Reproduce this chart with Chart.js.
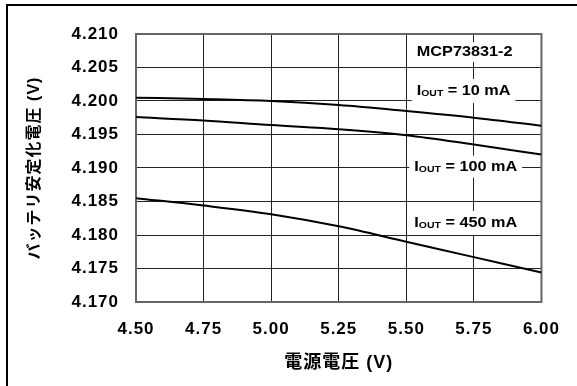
<!DOCTYPE html>
<html>
<head>
<meta charset="utf-8">
<script src="https://cdn.jsdelivr.net/npm/chart.js@4/dist/chart.umd.min.js"></script>
<style>
  html, body { margin: 0; padding: 0; background: #fff; }
  #wrap { position: relative; width: 577px; height: 386px; }
  #frame { position: absolute; left: 6px; top: 4px; right: 0; bottom: 0;
           border-left: 2px solid #000; border-top: 2px solid #000; pointer-events: none; }
</style>
</head>
<body>
<div id="wrap">
  <canvas id="c"></canvas>
  <div id="frame"></div>
</div>
<script>
// Supply voltage (V) sample points
const supplyVoltage = [4.50, 4.75, 5.00, 5.25, 5.50, 5.75, 6.00];
// Regulated battery voltage (V) for each load current
const vreg10mA  = [4.2005, 4.2003, 4.2000, 4.1994, 4.1985, 4.1975, 4.1963];
const vreg100mA = [4.1976, 4.1971, 4.1964, 4.1958, 4.1949, 4.1935, 4.1920];
const vreg450mA = [4.1855, 4.1844, 4.1831, 4.1813, 4.1790, 4.1767, 4.1744];
// Axis ticks
const xTicks = [4.50, 4.75, 5.00, 5.25, 5.50, 5.75, 6.00];
const yTicks = [4.170, 4.175, 4.180, 4.185, 4.190, 4.195, 4.200, 4.205, 4.210];

const FONT = "'Liberation Sans', Arial, 'Noto Sans CJK JP', sans-serif";

// In-plot captions (anchored in data units)
const notes = [
  { parts: [['MCP73831-2', 0]], x: 5.716, y: 4.2073, boxH: 20 },
  { parts: [['I', 0], ['OUT', 1], [' = 10 mA', 0]], x: 5.712, y: 4.2015, boxH: 24 },
  { parts: [['I', 0], ['OUT', 1], [' = 100 mA', 0]], x: 5.72, y: 4.1902, boxH: 22 },
  { parts: [['I', 0], ['OUT', 1], [' = 450 mA', 0]], x: 5.72, y: 4.1818, boxH: 24 }
];

const toPoints = ys => supplyVoltage.map((v, i) => ({ x: v, y: ys[i] }));

const lineStyle = {
  borderColor: '#000', borderWidth: 2, pointRadius: 0,
  cubicInterpolationMode: 'monotone', fill: false
};

// Slightly wider lettering for axis text
const spacing = {
  id: 'spacing',
  beforeUpdate(c) { c.ctx.letterSpacing = '1px'; },
  beforeLayout(c) { c.ctx.letterSpacing = '1px'; },
  beforeDraw(c) { c.ctx.letterSpacing = '1px'; }
};

// Plot frame and captions with white backing boxes
const captions = {
  id: 'captions',
  beforeDatasetsDraw(c) {
    const ctx = c.ctx, xs = c.scales.x, ys = c.scales.y, a = c.chartArea;
    ctx.save();
    ctx.strokeStyle = '#666';
    ctx.lineWidth = 2;
    ctx.strokeRect(a.left, a.top, a.right - a.left, a.bottom - a.top);
    ctx.letterSpacing = '0px';
    const sx = 1.16;
    const big = 'bold 14px ' + FONT, small = 'bold 9px ' + FONT;
    notes.forEach(n => {
      let w = 0;
      n.parts.forEach(p => { ctx.font = p[1] ? small : big; w += ctx.measureText(p[0]).width; });
      const tw = w * sx;
      const cx = xs.getPixelForValue(n.x), cy = ys.getPixelForValue(n.y);
      ctx.fillStyle = '#fff';
      ctx.fillRect(cx - tw / 2 - 5, cy - n.boxH / 2, tw + 10, n.boxH);
      ctx.save();
      ctx.translate(cx - tw / 2, cy);
      ctx.scale(sx, 1);
      ctx.fillStyle = '#000';
      ctx.textBaseline = 'middle';
      ctx.textAlign = 'left';
      let px = 0;
      n.parts.forEach(p => {
        ctx.font = p[1] ? small : big;
        ctx.fillText(p[0], px, p[1] ? 3 : 0);
        px += ctx.measureText(p[0]).width;
      });
      ctx.restore();
    });
    ctx.restore();
  }
};

new Chart(document.getElementById('c'), {
  type: 'line',
  data: {
    datasets: [
      Object.assign({ label: '10 mA', data: toPoints(vreg10mA) }, lineStyle),
      Object.assign({ label: '100 mA', data: toPoints(vreg100mA) }, lineStyle),
      Object.assign({ label: '450 mA', data: toPoints(vreg450mA) }, lineStyle)
    ]
  },
  options: {
    responsive: true,
    maintainAspectRatio: false,
    animation: false,
    layout: { padding: { left: 0, top: 34, right: 35, bottom: 0 } },
    plugins: { legend: { display: false }, tooltip: { enabled: false } },
    scales: {
      x: {
        type: 'linear', min: 4.5, max: 6.0,
        afterBuildTicks: s => { s.ticks = xTicks.map(v => ({ value: v })); },
        afterFit: s => { s.height = 84; },
        grid: { color: '#222', lineWidth: 1, drawTicks: false },
        border: { display: false },
        ticks: {
          padding: 17, color: '#000', autoSkip: false, maxRotation: 0,
          font: { family: FONT, size: 17, weight: 'bold' },
          callback: v => Number(v).toFixed(2)
        },
        title: {
          display: true, text: '電源電圧 (V)', color: '#000',
          font: { family: FONT, size: 18, weight: 'bold' },
          padding: { top: 0, bottom: 12 }
        }
      },
      y: {
        type: 'linear', min: 4.17, max: 4.21,
        afterBuildTicks: s => { s.ticks = yTicks.map(v => ({ value: v })); },
        afterFit: s => { s.width = 136; },
        grid: { color: '#222', lineWidth: 1, drawTicks: false },
        border: { display: false },
        ticks: {
          padding: 17, color: '#000', autoSkip: false,
          font: { family: FONT, size: 17, weight: 'bold' },
          callback: v => Number(v).toFixed(3)
        },
        title: {
          display: true, text: 'バッテリ安定化電圧 (V)', color: '#000',
          font: { family: FONT, size: 16, weight: 'bold' },
          padding: { top: 25, bottom: 0 }
        }
      }
    }
  },
  plugins: [spacing, captions]
});
</script>
</body>
</html>
